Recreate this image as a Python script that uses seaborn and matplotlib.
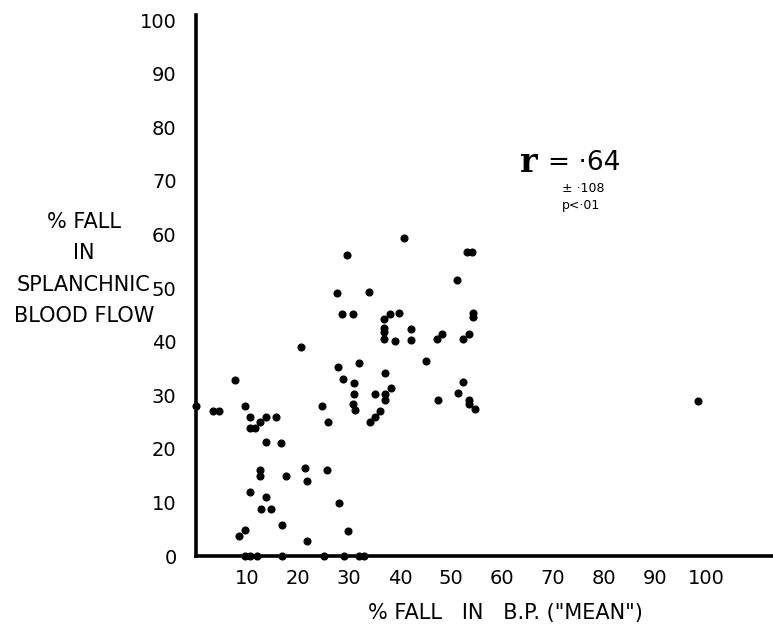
import matplotlib
matplotlib.use("Agg")
import matplotlib.pyplot as plt
import seaborn as sns
import pandas as pd

# % fall in B.P. (mean) -- x values
bp_fall = [
    0.0, 3.4, 4.6, 7.6, 9.6, 10.6, 10.6, 11.6, 12.5, 13.7, 15.7, 13.7, 16.7,
    12.6, 12.6, 17.6, 21.4, 21.8, 25.7, 24.8, 25.8, 10.6, 13.7, 12.7, 14.8,
    16.8, 8.5, 9.6, 21.8, 20.6, 28.0, 29.8,
    9.6, 10.6, 11.9, 16.9, 25.1, 29.0, 32.0, 32.9,
    40.8, 29.7, 53.2, 54.1, 51.2, 27.7, 33.9, 28.7, 30.8, 38.1, 39.9, 36.9,
    54.4, 54.4, 36.9, 36.9, 36.9, 39.0, 42.2, 42.2, 47.2, 48.2, 52.4, 53.5,
    27.8, 32.0, 45.0, 28.9, 31.0, 37.0, 31.0, 35.0, 37.1, 37.1, 38.2, 52.4,
    51.4, 47.5, 53.5, 53.5, 54.7, 30.7, 31.1, 34.1, 35.1, 36.1,
    98.5,
]
# % fall in splanchnic blood flow -- y values
flow_fall = [
    28.0, 27.1, 27.1, 32.8, 28.0, 25.9, 23.9, 23.9, 25.0, 26.0, 25.9, 21.3, 21.0,
    16.0, 14.9, 15.0, 16.5, 13.9, 16.0, 28.0, 25.0, 11.9, 11.1, 8.8, 8.8,
    5.8, 3.8, 4.8, 2.8, 39.0, 9.9, 4.7,
    0, 0, 0, 0, 0, 0, 0, 0,
    59.3, 56.2, 56.7, 56.7, 51.5, 49.1, 49.2, 45.2, 45.2, 45.2, 45.4, 44.3,
    45.3, 44.5, 42.6, 41.7, 40.5, 40.2, 42.3, 40.3, 40.4, 41.5, 40.4, 41.5,
    35.2, 36.1, 36.3, 33.1, 32.3, 34.2, 30.2, 30.2, 30.2, 29.1, 31.3, 32.5,
    30.5, 29.1, 29.1, 28.4, 27.4, 28.4, 27.2, 25.0, 26.0, 27.1,
    28.9,
]

x_ticks = [10, 20, 30, 40, 50, 60, 70, 80, 90, 100]
y_ticks = [0, 10, 20, 30, 40, 50, 60, 70, 80, 90, 100]

df = pd.DataFrame({"bp": bp_fall, "flow": flow_fall})

sns.set_style("white")
plt.rcParams["font.family"] = ["DejaVu Sans"]
plt.rcParams["text.color"] = "black"
plt.rcParams["xtick.color"] = "black"
plt.rcParams["ytick.color"] = "black"

W, H = 773, 640
fig = plt.figure(figsize=(W / 100, H / 100), dpi=100)
ax = fig.add_axes([196 / W, 84 / H, 577 / W, 541 / H])

sns.scatterplot(data=df, x="bp", y="flow", ax=ax, color="black", s=34,
                edgecolor="black", linewidth=0, clip_on=False, legend=False)

ax.set_xlim(0, 577 / 5.1)
ax.set_ylim(0, 541 / 5.36)

for side in ["top", "right"]:
    ax.spines[side].set_visible(False)
for side in ["left", "bottom"]:
    ax.spines[side].set_visible(True)
    ax.spines[side].set_linewidth(2.6)
    ax.spines[side].set_color("black")

ax.set_xticks(x_ticks)
ax.set_xticklabels([str(v) for v in x_ticks], fontsize=14, color="black")
ax.set_yticks(y_ticks)
ax.set_yticklabels([str(v) for v in y_ticks], fontsize=14, color="black")
ax.tick_params(axis="both", length=0, colors="black")
ax.tick_params(axis="y", pad=14)
ax.tick_params(axis="x", pad=9)
ax.set_xlabel("")
ax.set_ylabel("")
ax.grid(False)

# y axis title (left block)
for txt, ypx in [("% FALL", 222), ("IN", 253), ("SPLANCHNIC", 285), ("BLOOD FLOW", 316)]:
    fig.text(84 / W, 1 - ypx / H, txt, ha="center", va="center", fontsize=15,
             color="black")

# x axis title
fig.text(505 / W, 1 - 613 / H, '% FALL   IN   B.P. ("MEAN")', ha="center",
         va="center", fontsize=15, color="black")

# correlation annotation
fig.text(520 / W, 1 - 163 / H, "r", ha="left", va="center", fontsize=24,
         family="DejaVu Serif", fontweight="bold", color="black")
fig.text(548 / W, 1 - 163 / H, "= ·64", ha="left", va="center", fontsize=19,
         color="black")
fig.text(562 / W, 1 - 188 / H, "± ·108", ha="left", va="center", fontsize=9,
         color="black")
fig.text(562 / W, 1 - 205 / H, "p<·01", ha="left", va="center", fontsize=9,
         color="black")

fig.savefig("out.png", dpi=100, facecolor="white")
